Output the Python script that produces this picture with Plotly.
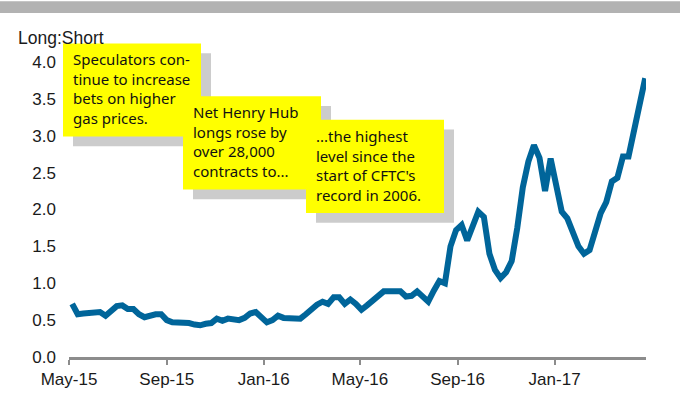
import pandas as pd
import plotly.graph_objs as go

# weekly CFTC positioning, Henry Hub long:short ratio
dates = pd.date_range("2015-05-05", periods=104, freq="7D")
ratio = [
    0.72, 0.58, 0.59, 0.60, 0.61, 0.61, 0.56, 0.63, 0.69, 0.70,
    0.65, 0.65, 0.58, 0.54, 0.57, 0.58, 0.58, 0.50, 0.47, 0.47,
    0.47, 0.46, 0.44, 0.43, 0.45, 0.46, 0.52, 0.49, 0.52, 0.50,
    0.50, 0.53, 0.59, 0.61, 0.54, 0.47, 0.50, 0.56, 0.53, 0.52,
    0.52, 0.52, 0.58, 0.65, 0.71, 0.75, 0.72, 0.81, 0.81, 0.72,
    0.78, 0.72, 0.64, 0.70, 0.76, 0.82, 0.89, 0.89, 0.89, 0.89,
    0.82, 0.83, 0.89, 0.82, 0.75, 0.90, 1.03, 1.00, 1.50, 1.72,
    1.79, 1.58, 1.75, 1.97, 1.90, 1.40, 1.18, 1.07, 1.15, 1.30,
    1.75, 2.30, 2.65, 2.87, 2.70, 2.25, 2.69, 2.30, 1.97, 1.88,
    1.70, 1.50, 1.40, 1.45, 1.70, 1.95, 2.10, 2.38, 2.43, 2.72,
    2.72, 3.09, 3.36, 3.78,
]

tick_dates = ["2015-05-01", "2015-09-01", "2016-01-01",
              "2016-05-01", "2016-09-01", "2017-01-01"]
tick_text = ["May-15", "Sep-15", "Jan-16", "May-16", "Sep-16", "Jan-17"]
y_ticks = [0, 0.5, 1, 1.5, 2, 2.5, 3, 3.5, 4]

notes = [
    "Speculators con-<br>tinue to increase<br>bets on higher<br>gas prices.",
    "Net Henry Hub<br>longs rose by<br>over 28,000<br>contracts to...",
    "...the highest<br>level since the<br>start of CFTC's<br>record in 2006.",
]

W, H = 680, 401
L, R, T, B = 69, 34, 62, 38
pw, ph = W - L - R, H - T - B


def px(x):
    return (x - L) / pw


def py(y):
    return (H - B - y) / ph


fig = go.Figure()
fig.add_trace(go.Scatter(
    x=dates,
    y=ratio,
    mode="lines",
    showlegend=False,
    line=dict(width=6, color="#00659A", shape="linear"),
    hovertemplate="%{x|%d %b %Y}: %{y:.2f}<extra></extra>",
))

shapes = [dict(type="rect", xref="paper", yref="paper",
               x0=px(0), x1=px(W), y0=py(12), y1=py(0),
               fillcolor="#B2B2B2", line=dict(width=0), layer="above")]
annotations = []
box_pos = [(63, 43), (183, 97), (306, 121)]
for (bx, by), txt in zip(box_pos, notes):
    shapes.append(dict(type="rect", xref="paper", yref="paper",
                       x0=px(bx + 10), x1=px(bx + 148), y0=py(by + 105), y1=py(by + 10),
                       fillcolor="#CCCCCC", line=dict(width=0), layer="above"))
    shapes.append(dict(type="rect", xref="paper", yref="paper",
                       x0=px(bx), x1=px(bx + 138), y0=py(by + 95), y1=py(by),
                       fillcolor="#FFFF00", line=dict(width=0), layer="above"))
    annotations.append(dict(xref="paper", yref="paper", x=px(bx + 8), y=py(by + 4),
                            xanchor="left", yanchor="top", align="left", showarrow=False,
                            text=txt,
                            font=dict(family="Comic Sans MS, Noto Sans", size=15, color="#111111")))

annotations.append(dict(xref="paper", yref="paper", x=px(16), y=py(38),
                        xanchor="left", yanchor="middle", showarrow=False,
                        text="Long:Short",
                        font=dict(family="Liberation Sans, Arial", size=17.5, color="#1A1A1A")))

fig.update_layout(
    width=W,
    height=H,
    margin=dict(l=L, r=R, t=T, b=B, pad=0),
    paper_bgcolor="white",
    plot_bgcolor="white",
    font=dict(family="Liberation Sans, Arial", size=17, color="#1A1A1A"),
    shapes=shapes,
    annotations=annotations,
    xaxis=dict(
        type="date",
        range=["2015-05-01", "2017-04-26"],
        tickvals=tick_dates,
        ticktext=tick_text,
        showline=True,
        linecolor="#8C8C8C",
        linewidth=3,
        ticks="outside",
        ticklen=5,
        tickwidth=2,
        tickcolor="#8C8C8C",
        showgrid=False,
        zeroline=False,
    ),
    yaxis=dict(
        range=[0, 4],
        tickvals=y_ticks,
        tickformat=".1f",
        showline=False,
        ticks="",
        showgrid=False,
        zeroline=False,
        ticklabelstandoff=12,
    ),
)

# the page opens with the browser's default 8px body margin; drop it
fig.write_html("out.html", config={"displayModeBar": False},
               post_script="document.body.style.margin = '0';")
